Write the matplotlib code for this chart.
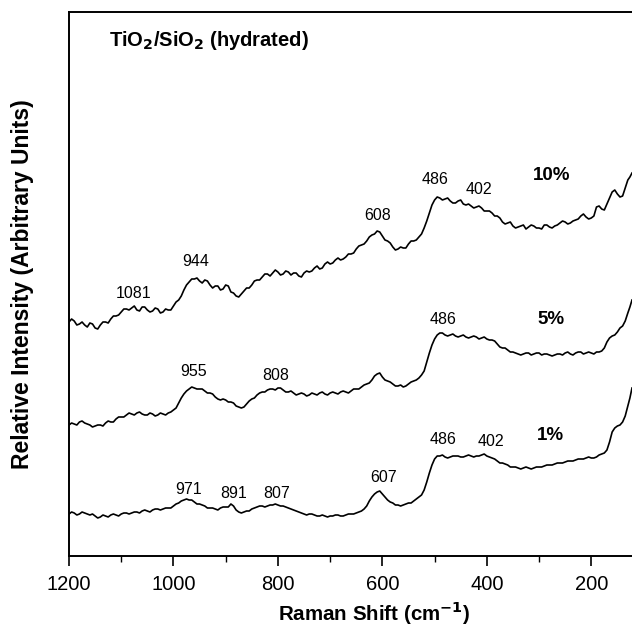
import matplotlib
matplotlib.use("Agg")
import matplotlib.pyplot as plt
from matplotlib.ticker import MultipleLocator

plt.rcParams['font.family'] = ['Liberation Sans', 'DejaVu Sans']

# Raman shift (cm-1) sampling points, coarse grid
shift = [1200, 1190, 1180, 1170, 1160, 1150, 1140, 1130, 1120, 1110,
         1100, 1090, 1080, 1070, 1060, 1050, 1040, 1030, 1020, 1010,
         1000, 990, 980, 970, 960, 950, 940, 930, 920, 910,
         900, 890, 880, 870, 860, 850, 840, 830, 820, 810,
         800, 790, 780, 770, 760, 750, 740, 730, 720, 710,
         700, 690, 680, 670, 660, 650, 640, 630, 620, 610,
         600, 590, 580, 570, 560, 550, 540, 530, 520, 510,
         500, 490, 480, 470, 460, 450, 440, 430, 420, 410,
         400, 390, 380, 370, 360, 350, 340, 330, 320, 310,
         300, 290, 280, 270, 260, 250, 240, 230, 220, 210,
         200, 190, 180, 170, 160, 150, 140, 130, 122]

# in-between points (picks up the noise of the spectra)
shift_mid = [1195, 1185, 1175, 1165, 1155, 1145, 1135, 1125, 1115, 1105,
             1095, 1085, 1075, 1065, 1055, 1045, 1035, 1025, 1015, 1005,
             995, 985, 975, 965, 955, 945, 935, 925, 915, 905,
             895, 885, 875, 865, 855, 845, 835, 825, 815, 805,
             795, 785, 775, 765, 755, 745, 735, 725, 715, 705,
             695, 685, 675, 665, 655, 645, 635, 625, 615, 605,
             595, 585, 575, 565, 555, 545, 535, 525, 515, 505,
             495, 485, 475, 465, 455, 445, 435, 425, 415, 405,
             395, 385, 375, 365, 355, 345, 335, 325, 315, 305,
             295, 285, 275, 265, 255, 245, 235, 225, 215, 205,
             195, 185, 175, 165, 155, 145, 135, 126]

# intensities (arbitrary units, traces already offset)
int_10 = [234, 235, 232, 231, 233, 228, 231, 234, 237, 240,
          244, 247, 248, 246, 249, 246, 245, 247, 244, 246,
          250, 256, 266, 274, 277, 275, 276, 271, 270, 266,
          271, 264, 260, 262, 268, 271, 276, 279, 282, 283,
          284, 282, 284, 283, 280, 283, 284, 288, 287, 292,
          292, 296, 296, 299, 302, 307, 311, 315, 321, 325,
          320, 315, 309, 307, 308, 312, 315, 319, 328, 343,
          356, 358, 357, 355, 353, 356, 351, 350, 349, 348,
          345, 343, 340, 334, 333, 330, 329, 331, 329, 330,
          328, 331, 329, 330, 333, 334, 333, 336, 340, 339,
          338, 349, 347, 352, 364, 362, 360, 376, 383]
int_10_mid = [237, 231, 234, 229, 232, 227, 234, 233, 240, 241,
              247, 246, 250, 245, 249, 244, 248, 243, 247, 246,
              254, 260, 271, 277, 278, 273, 275, 268, 270, 267,
              270, 263, 259, 265, 268, 275, 276, 282, 280, 286,
              281, 285, 281, 283, 279, 285, 285, 290, 288, 294,
              293, 298, 297, 302, 303, 310, 312, 319, 322, 324,
              316, 313, 306, 309, 308, 315, 316, 322, 335, 351,
              359, 356, 358, 353, 355, 352, 352, 348, 350, 345,
              345, 340, 338, 332, 334, 328, 330, 327, 331, 328,
              327, 331, 328, 331, 335, 332, 335, 337, 342, 337,
              340, 350, 346, 358, 366, 359, 368, 379]

int_5 = [131, 132, 134, 133, 131, 130, 131, 133, 134, 137,
         139, 141, 142, 143, 142, 141, 142, 141, 142, 143,
         146, 153, 162, 167, 168, 167, 165, 163, 159, 156,
         156, 154, 150, 148, 152, 157, 161, 164, 166, 167,
         168, 166, 164, 163, 162, 162, 161, 162, 163, 162,
         163, 163, 164, 164, 165, 167, 169, 172, 176, 182,
         179, 175, 172, 170, 169, 172, 175, 178, 185, 203,
         217, 223, 221, 221, 220, 220, 219, 219, 219, 218,
         217, 216, 212, 208, 206, 204, 202, 202, 203, 202,
         203, 202, 201, 201, 202, 203, 202, 203, 204, 203,
         203, 204, 205, 214, 220, 224, 230, 243, 256]
int_5_mid = [133, 131, 135, 132, 129, 131, 130, 135, 134, 139,
             139, 143, 141, 144, 141, 143, 140, 143, 141, 144,
             148, 158, 165, 169, 167, 167, 163, 162, 157, 157,
             154, 153, 149, 149, 155, 158, 163, 164, 167, 166,
             168, 164, 165, 161, 163, 160, 163, 161, 164, 161,
             164, 162, 165, 163, 167, 167, 171, 173, 180, 183,
             176, 174, 170, 171, 170, 174, 176, 181, 194, 211,
             221, 223, 220, 222, 219, 221, 218, 220, 217, 219,
             216, 215, 209, 208, 204, 203, 201, 203, 201, 203,
             201, 202, 200, 202, 201, 204, 201, 204, 202, 204,
             202, 204, 208, 218, 221, 228, 235, 249]

int_1 = [42, 43, 42, 43, 41, 40, 39, 40, 41, 41,
         42, 43, 43, 44, 45, 45, 46, 47, 47, 48,
         50, 53, 56, 56, 54, 52, 50, 48, 47, 48,
         49, 52, 46, 43, 45, 47, 49, 50, 50, 51,
         51, 50, 48, 46, 44, 42, 42, 41, 40, 40,
         40, 41, 40, 41, 42, 43, 45, 50, 59, 64,
         62, 56, 53, 51, 51, 53, 55, 59, 66, 83,
         97, 100, 99, 99, 100, 99, 100, 100, 100, 101,
         100, 98, 95, 93, 91, 89, 88, 88, 88, 88,
         89, 90, 91, 92, 93, 94, 95, 96, 97, 98,
         98, 99, 102, 106, 124, 130, 134, 150, 168]
int_1_mid = [44, 41, 44, 42, 42, 38, 41, 39, 42, 40,
             43, 42, 44, 43, 46, 44, 47, 46, 48, 48,
             52, 55, 57, 56, 52, 51, 48, 48, 46, 49,
             49, 50, 44, 44, 45, 48, 50, 49, 51, 52,
             50, 49, 47, 45, 43, 41, 42, 40, 41, 39,
             40, 41, 40, 42, 42, 44, 47, 55, 62, 65,
             59, 54, 51, 50, 52, 53, 57, 61, 74, 91,
             100, 101, 98, 100, 100, 99, 101, 99, 100, 102,
             99, 97, 93, 92, 89, 89, 87, 89, 87, 89,
             89, 91, 91, 93, 93, 95, 95, 97, 97, 99,
             98, 101, 103, 114, 128, 131, 140, 158]

# peak labels: (text, shift, intensity)
peaks_10 = [("1081", 1077, 263), ("944", 957, 294), ("608", 610, 340),
            ("486", 500, 376), ("402", 415, 366)]
peaks_5 = [("955", 961, 184), ("808", 804, 181), ("486", 484, 236)]
peaks_1 = [("971", 971, 66), ("891", 885, 63), ("807", 803, 62),
           ("607", 598, 79), ("486", 484, 116), ("402", 393, 115)]

series_labels = [("10%", 276, 380), ("5%", 277, 236), ("1%", 279, 121)]


def merge(coarse, fine):
    out = []
    for i, v in enumerate(coarse):
        out.append(v)
        if i < len(fine):
            out.append(fine[i])
    return out


fig = plt.figure(figsize=(6.32, 6.35), dpi=100)
ax = fig.add_axes([69 / 632, 1 - 556 / 635, 1 - 69 / 632, (556 - 12) / 635])

x = merge(shift, shift_mid)
for y, ym in ((int_10, int_10_mid), (int_5, int_5_mid), (int_1, int_1_mid)):
    ax.plot(x, merge(y, ym), color='black', lw=1.2)

for txt, px, py in peaks_10 + peaks_5 + peaks_1:
    ax.text(px, py, txt, ha='center', va='center', fontsize=11.5)

for txt, px, py in series_labels:
    ax.text(px, py, txt, ha='center', va='center', fontsize=13.5, fontweight='bold')

ax.text(1124, 516, r'TiO$_\mathbf{2}$/SiO$_\mathbf{2}$ (hydrated)', ha='left', va='center',
        fontsize=14.5, fontweight='bold')

ax.set_xlim(1200, 122)
ax.set_ylim(0, 544)
ax.xaxis.set_major_locator(MultipleLocator(200))
ax.xaxis.set_minor_locator(MultipleLocator(100))
ax.tick_params(axis='x', which='major', direction='out', length=7, width=1.2,
               labelsize=14.5, pad=7)
ax.tick_params(axis='x', which='minor', direction='out', length=4, width=1.0)
ax.set_yticks([])
ax.spines['right'].set_visible(False)
for s in ('left', 'bottom', 'top'):
    ax.spines[s].set_linewidth(1.4)

fig.text(374 / 632, 1 - 613 / 635, r'Raman Shift (cm$^{\mathbf{-1}}$)', ha='center', va='center',
         fontsize=14.8, fontweight='bold')
fig.text(23 / 632, 1 - 284 / 635, 'Relative Intensity (Arbitrary Units)', ha='center',
         va='center', rotation=90, fontsize=16.5, fontweight='bold')

fig.savefig('out.png', dpi=100)
